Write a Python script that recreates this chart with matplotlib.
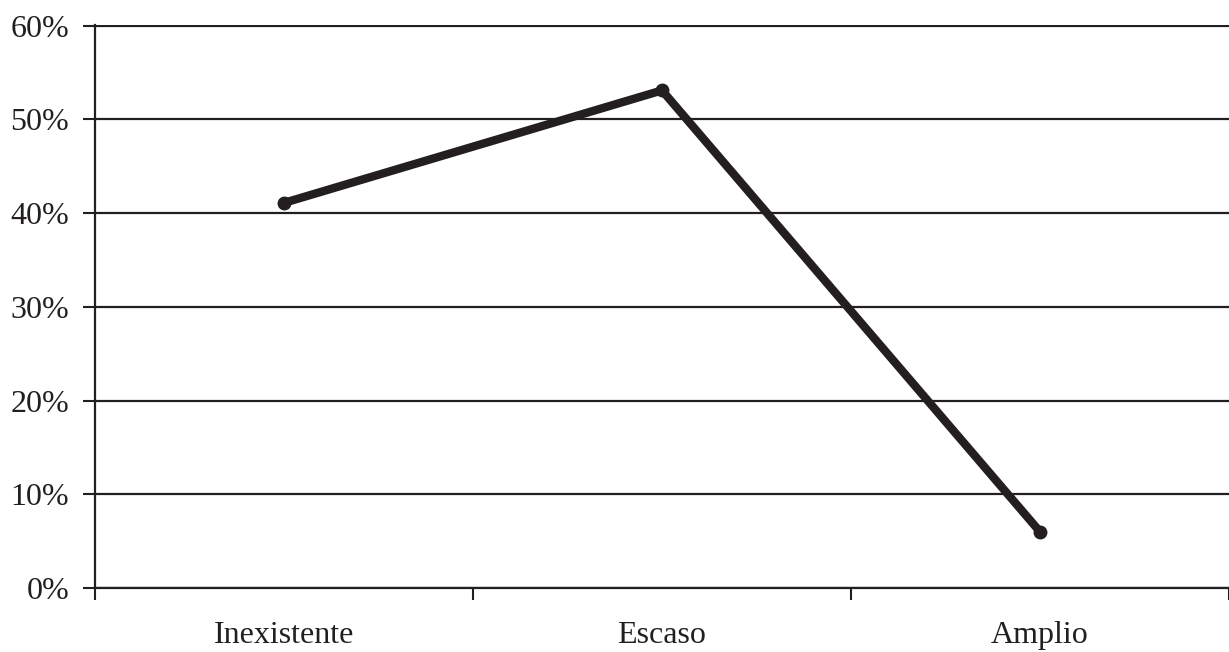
import matplotlib
matplotlib.use("Agg")
from matplotlib import pyplot as plt
from matplotlib.ticker import FixedLocator, PercentFormatter

# data
categories = ["Inexistente", "Escaso", "Amplio"]
values = [0.411, 0.531, 0.060]
y_ticks = [0.0, 0.1, 0.2, 0.3, 0.4, 0.5, 0.6]

ink = "#231f20"
plt.rcParams["font.family"] = ["Liberation Serif", "DejaVu Serif"]

fig = plt.figure(figsize=(12.29, 6.52), dpi=100)
ax = fig.add_axes([95 / 1229, 64 / 652, 1 - 95 / 1229, 563 / 652])

x = [i + 0.5 for i in range(len(categories))]
ax.plot(x, values, color=ink, lw=6, marker="o", markersize=9,
        solid_capstyle="round", solid_joinstyle="round", zorder=3)

ax.set_xlim(0, len(categories))
ax.set_ylim(0, 0.6008)
ax.set_yticks(y_ticks)
ax.yaxis.set_major_formatter(PercentFormatter(1.0, decimals=0))
ax.yaxis.grid(True, color=ink, lw=1.6)
ax.set_axisbelow(True)

# category boundaries as major ticks, labels centered as minor ticks
ax.xaxis.set_major_locator(FixedLocator(range(len(categories) + 1)))
ax.xaxis.set_minor_locator(FixedLocator(x))
ax.set_xticklabels([])
ax.set_xticklabels(categories, minor=True)

ax.tick_params(axis="y", direction="out", length=8.6, width=1.5, color=ink,
               pad=10, labelsize=23, labelcolor=ink)
ax.tick_params(axis="x", which="major", direction="out", length=8.6,
               width=1.5, color=ink)
ax.tick_params(axis="x", which="minor", length=0, pad=24, labelsize=23,
               labelcolor=ink)

for side in ["top", "right"]:
    ax.spines[side].set_visible(False)
for side in ["left", "bottom"]:
    ax.spines[side].set_color(ink)
    ax.spines[side].set_linewidth(1.6)

fig.savefig("out.png", dpi=100)
